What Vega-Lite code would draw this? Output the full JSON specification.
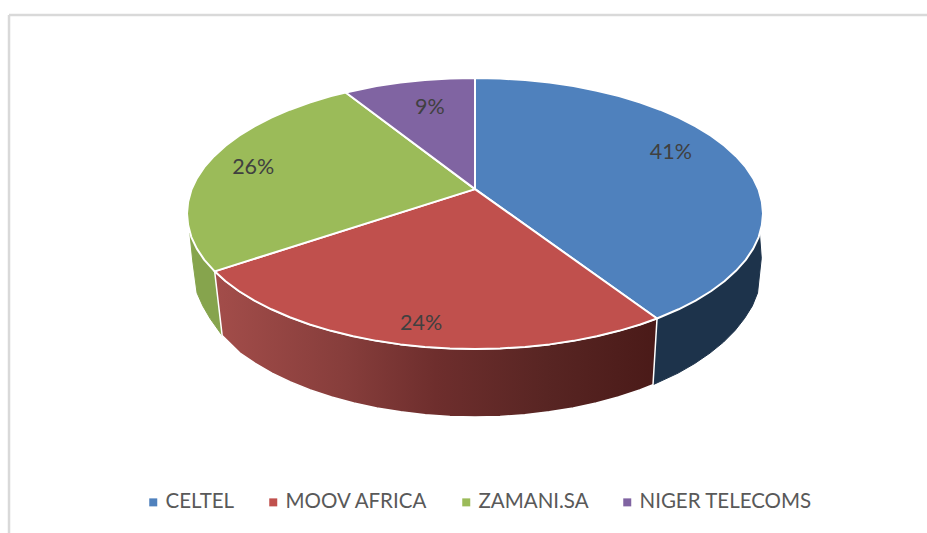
{
"$schema":"https://vega.github.io/schema/vega-lite/v6.json",
"width":927,"height":533,"autosize":"none","padding":0,"background":"white",
"config":{"view":{"stroke":null}},
"datasets":{
"tops":[
{"series":"CELTEL","i":0,"u":0,"v":18},{"series":"CELTEL","i":1,"u":0,"v":100},{"series":"CELTEL","i":2,"u":8.7,"v":99.6},{"series":"CELTEL","i":3,"u":17.4,"v":98.5},{"series":"CELTEL","i":4,"u":25.9,"v":96.6},{"series":"CELTEL","i":5,"u":34.2,"v":94},{"series":"CELTEL","i":6,"u":42.3,"v":90.6},{"series":"CELTEL","i":7,"u":50,"v":86.6},{"series":"CELTEL","i":8,"u":57.4,"v":81.9},{"series":"CELTEL","i":9,"u":64.3,"v":76.6},{"series":"CELTEL","i":10,"u":70.7,"v":70.7},{"series":"CELTEL","i":11,"u":76.6,"v":64.3},{"series":"CELTEL","i":12,"u":81.9,"v":57.4},{"series":"CELTEL","i":13,"u":86.6,"v":50},{"series":"CELTEL","i":14,"u":90.6,"v":42.3},{"series":"CELTEL","i":15,"u":94,"v":34.2},{"series":"CELTEL","i":16,"u":96.6,"v":25.9},{"series":"CELTEL","i":17,"u":98.5,"v":17.4},{"series":"CELTEL","i":18,"u":99.6,"v":8.7},{"series":"CELTEL","i":19,"u":100,"v":0},{"series":"CELTEL","i":20,"u":99.6,"v":-8.7},{"series":"CELTEL","i":21,"u":98.5,"v":-17.4},{"series":"CELTEL","i":22,"u":96.6,"v":-25.9},{"series":"CELTEL","i":23,"u":94,"v":-34.2},{"series":"CELTEL","i":24,"u":90.6,"v":-42.3},{"series":"CELTEL","i":25,"u":86.6,"v":-50},{"series":"CELTEL","i":26,"u":81.9,"v":-57.4},{"series":"CELTEL","i":27,"u":76.6,"v":-64.3},{"series":"CELTEL","i":28,"u":70.7,"v":-70.7},{"series":"CELTEL","i":29,"u":63.2,"v":-77.5},{"series":"CELTEL","i":30,"u":0,"v":18},
{"series":"MOOV AFRICA","i":0,"u":0,"v":18},{"series":"MOOV AFRICA","i":1,"u":63.2,"v":-77.5},{"series":"MOOV AFRICA","i":2,"u":57.4,"v":-81.9},{"series":"MOOV AFRICA","i":3,"u":50,"v":-86.6},{"series":"MOOV AFRICA","i":4,"u":42.3,"v":-90.6},{"series":"MOOV AFRICA","i":5,"u":34.2,"v":-94},{"series":"MOOV AFRICA","i":6,"u":25.9,"v":-96.6},{"series":"MOOV AFRICA","i":7,"u":17.4,"v":-98.5},{"series":"MOOV AFRICA","i":8,"u":8.7,"v":-99.6},{"series":"MOOV AFRICA","i":9,"u":0,"v":-100},{"series":"MOOV AFRICA","i":10,"u":-8.7,"v":-99.6},{"series":"MOOV AFRICA","i":11,"u":-17.4,"v":-98.5},{"series":"MOOV AFRICA","i":12,"u":-25.9,"v":-96.6},{"series":"MOOV AFRICA","i":13,"u":-34.2,"v":-94},{"series":"MOOV AFRICA","i":14,"u":-42.3,"v":-90.6},{"series":"MOOV AFRICA","i":15,"u":-50,"v":-86.6},{"series":"MOOV AFRICA","i":16,"u":-57.4,"v":-81.9},{"series":"MOOV AFRICA","i":17,"u":-64.3,"v":-76.6},{"series":"MOOV AFRICA","i":18,"u":-70.7,"v":-70.7},{"series":"MOOV AFRICA","i":19,"u":-76.6,"v":-64.3},{"series":"MOOV AFRICA","i":20,"u":-81.9,"v":-57.4},{"series":"MOOV AFRICA","i":21,"u":-86.6,"v":-50},{"series":"MOOV AFRICA","i":22,"u":-90.4,"v":-42.7},{"series":"MOOV AFRICA","i":23,"u":0,"v":18},
{"series":"ZAMANI.SA","i":0,"u":0,"v":18},{"series":"ZAMANI.SA","i":1,"u":-90.4,"v":-42.7},{"series":"ZAMANI.SA","i":2,"u":-94,"v":-34.2},{"series":"ZAMANI.SA","i":3,"u":-96.6,"v":-25.9},{"series":"ZAMANI.SA","i":4,"u":-98.5,"v":-17.4},{"series":"ZAMANI.SA","i":5,"u":-99.6,"v":-8.7},{"series":"ZAMANI.SA","i":6,"u":-100,"v":0},{"series":"ZAMANI.SA","i":7,"u":-99.6,"v":8.7},{"series":"ZAMANI.SA","i":8,"u":-98.5,"v":17.4},{"series":"ZAMANI.SA","i":9,"u":-96.6,"v":25.9},{"series":"ZAMANI.SA","i":10,"u":-94,"v":34.2},{"series":"ZAMANI.SA","i":11,"u":-90.6,"v":42.3},{"series":"ZAMANI.SA","i":12,"u":-86.6,"v":50},{"series":"ZAMANI.SA","i":13,"u":-81.9,"v":57.4},{"series":"ZAMANI.SA","i":14,"u":-76.6,"v":64.3},{"series":"ZAMANI.SA","i":15,"u":-70.7,"v":70.7},{"series":"ZAMANI.SA","i":16,"u":-64.3,"v":76.6},{"series":"ZAMANI.SA","i":17,"u":-57.4,"v":81.9},{"series":"ZAMANI.SA","i":18,"u":-50,"v":86.6},{"series":"ZAMANI.SA","i":19,"u":-44.9,"v":89.3},{"series":"ZAMANI.SA","i":20,"u":0,"v":18},
{"series":"NIGER TELECOMS","i":0,"u":0,"v":18},{"series":"NIGER TELECOMS","i":1,"u":-44.9,"v":89.3},{"series":"NIGER TELECOMS","i":2,"u":-34.2,"v":94},{"series":"NIGER TELECOMS","i":3,"u":-25.9,"v":96.6},{"series":"NIGER TELECOMS","i":4,"u":-17.4,"v":98.5},{"series":"NIGER TELECOMS","i":5,"u":-8.7,"v":99.6},{"series":"NIGER TELECOMS","i":6,"u":0,"v":100},{"series":"NIGER TELECOMS","i":7,"u":0,"v":18}
],
"sideBlue":[
{"i":0,"u":98.8,"v":-15.6},{"i":1,"u":96.6,"v":-25.9},{"i":2,"u":94,"v":-34.2},{"i":3,"u":90.6,"v":-42.3},{"i":4,"u":86.6,"v":-50},{"i":5,"u":81.9,"v":-57.4},{"i":6,"u":76.6,"v":-64.3},{"i":7,"u":70.7,"v":-70.7},{"i":8,"u":63.2,"v":-77.5},{"i":9,"u":61.8,"v":-126.4},{"i":10,"u":70.5,"v":-117.8},{"i":11,"u":76.3,"v":-110.7},{"i":12,"u":81.6,"v":-103},{"i":13,"u":86.3,"v":-94.9},{"i":14,"u":90.3,"v":-86.3},{"i":15,"u":93.6,"v":-77.4},{"i":16,"u":96.3,"v":-68.2},{"i":17,"u":98.1,"v":-58.7},{"i":18,"u":99.4,"v":-33},{"i":19,"u":98.8,"v":-15.6}
],
"sideRed":[
{"i":0,"u":63.2,"v":-77.5},{"i":1,"u":57.4,"v":-81.9},{"i":2,"u":50,"v":-86.6},{"i":3,"u":42.3,"v":-90.6},{"i":4,"u":34.2,"v":-94},{"i":5,"u":25.9,"v":-96.6},{"i":6,"u":17.4,"v":-98.5},{"i":7,"u":8.7,"v":-99.6},{"i":8,"u":0,"v":-100},{"i":9,"u":-8.7,"v":-99.6},{"i":10,"u":-17.4,"v":-98.5},{"i":11,"u":-25.9,"v":-96.6},{"i":12,"u":-34.2,"v":-94},{"i":13,"u":-42.3,"v":-90.6},{"i":14,"u":-50,"v":-86.6},{"i":15,"u":-57.4,"v":-81.9},{"i":16,"u":-64.3,"v":-76.6},{"i":17,"u":-70.7,"v":-70.7},{"i":18,"u":-76.6,"v":-64.3},{"i":19,"u":-81.9,"v":-57.4},{"i":20,"u":-86.6,"v":-50},{"i":21,"u":-90.4,"v":-42.7},{"i":22,"u":-87.8,"v":-90},{"i":23,"u":-81.6,"v":-103},{"i":24,"u":-76.3,"v":-110.7},{"i":25,"u":-70.5,"v":-117.8},{"i":26,"u":-64.1,"v":-124.3},{"i":27,"u":-57.2,"v":-130.2},{"i":28,"u":-49.8,"v":-135.4},{"i":29,"u":-42.1,"v":-139.8},{"i":30,"u":-34.1,"v":-143.5},{"i":31,"u":-25.8,"v":-146.4},{"i":32,"u":-17.3,"v":-148.5},{"i":33,"u":-8.7,"v":-149.8},{"i":34,"u":0,"v":-150.2},{"i":35,"u":8.7,"v":-149.8},{"i":36,"u":17.3,"v":-148.5},{"i":37,"u":25.8,"v":-146.4},{"i":38,"u":34.1,"v":-143.5},{"i":39,"u":42.1,"v":-139.8},{"i":40,"u":49.8,"v":-135.4},{"i":41,"u":57.2,"v":-130.2},{"i":42,"u":61.8,"v":-126.4},{"i":43,"u":63.2,"v":-77.5}
],
"sideGreen":[
{"i":0,"u":-90.4,"v":-42.7},{"i":1,"u":-94,"v":-34.2},{"i":2,"u":-96.6,"v":-25.9},{"i":3,"u":-99,"v":-14.4},{"i":4,"u":-98,"v":-35},{"i":5,"u":-96.5,"v":-58.7},{"i":6,"u":-94.5,"v":-68.2},{"i":7,"u":-92,"v":-77.4},{"i":8,"u":-87.8,"v":-90},{"i":9,"u":-90.4,"v":-42.7}
],
"labels":[
{"label":"41%","u":68,"v":44.7},{"label":"24%","u":-18.7,"v":-81.6},{"label":"26%","u":-77,"v":33.6},{"label":"9%","u":-15.7,"v":77.9}
],
"frame":[
{"u":-161.8,"u2":157,"v":146.5,"v2":146.5},{"u":-161.8,"u2":-161.8,"v":146.5,"v2":-235.8}
]
},
"layer":[
{"data":{"name":"frame"},"mark":{"type":"rule","color":"#d9d9d9","strokeWidth":2.5},
 "encoding":{"x":{"field":"u","type":"quantitative","scale":{"domain":[-164.93,156.94],"nice":false,"zero":false},"axis":null},"x2":{"field":"u2"},"y":{"field":"v","type":"quantitative","scale":{"domain":[-235.8,157.56],"nice":false,"zero":false},"axis":null},"y2":{"field":"v2"}}},
{"data":{"name":"sideBlue"},"mark":{"type":"line","fill":"#1d334b","stroke":"#1d334b","strokeWidth":1},
 "encoding":{"x":{"field":"u","type":"quantitative"},"y":{"field":"v","type":"quantitative"},"order":{"field":"i"}}},
{"data":{"name":"sideGreen"},"mark":{"type":"line","fill":"#86a44d","stroke":"#86a44d","strokeWidth":1},
 "encoding":{"x":{"field":"u","type":"quantitative"},"y":{"field":"v","type":"quantitative"},"order":{"field":"i"}}},
{"data":{"name":"sideRed"},"mark":{"type":"line","fill":{"gradient":"linear","x1":0,"x2":1,"y1":0,"y2":0,"stops":[{"offset":0,"color":"#a34d4a"},{"offset":0.3,"color":"#863d3b"},{"offset":0.5,"color":"#6e2e2d"},{"offset":0.75,"color":"#582523"},{"offset":1,"color":"#4a1a18"}]},"stroke":"white","strokeWidth":1.5},
 "encoding":{"x":{"field":"u","type":"quantitative"},"y":{"field":"v","type":"quantitative"},"order":{"field":"i"}}},
{"data":{"name":"tops"},"mark":{"type":"line","stroke":"white","strokeWidth":2,"strokeJoin":"round"},
 "encoding":{"x":{"field":"u","type":"quantitative"},"y":{"field":"v","type":"quantitative"},"order":{"field":"i"},
  "fill":{"field":"series","type":"nominal","sort":null,"scale":{"domain":["CELTEL","MOOV AFRICA","ZAMANI.SA","NIGER TELECOMS"],"range":["#4f81bd","#c0504d","#9bbb59","#8064a2"]},
   "legend":{"orient":"none","direction":"horizontal","title":null,"legendX":143,"legendY":492,"symbolType":"square","symbolSize":64,"symbolStrokeWidth":0,"labelFont":"Lato","labelFontSize":20.5,"labelColor":"#595959","labelOffset":2,"columnPadding":28,"labelLimit":300}}}},
{"data":{"name":"labels"},"mark":{"type":"text","font":"Lato","fontSize":21.5,"color":"#404040","baseline":"middle","align":"center"},
 "encoding":{"x":{"field":"u","type":"quantitative"},"y":{"field":"v","type":"quantitative"},"text":{"field":"label"}}}
]
}
